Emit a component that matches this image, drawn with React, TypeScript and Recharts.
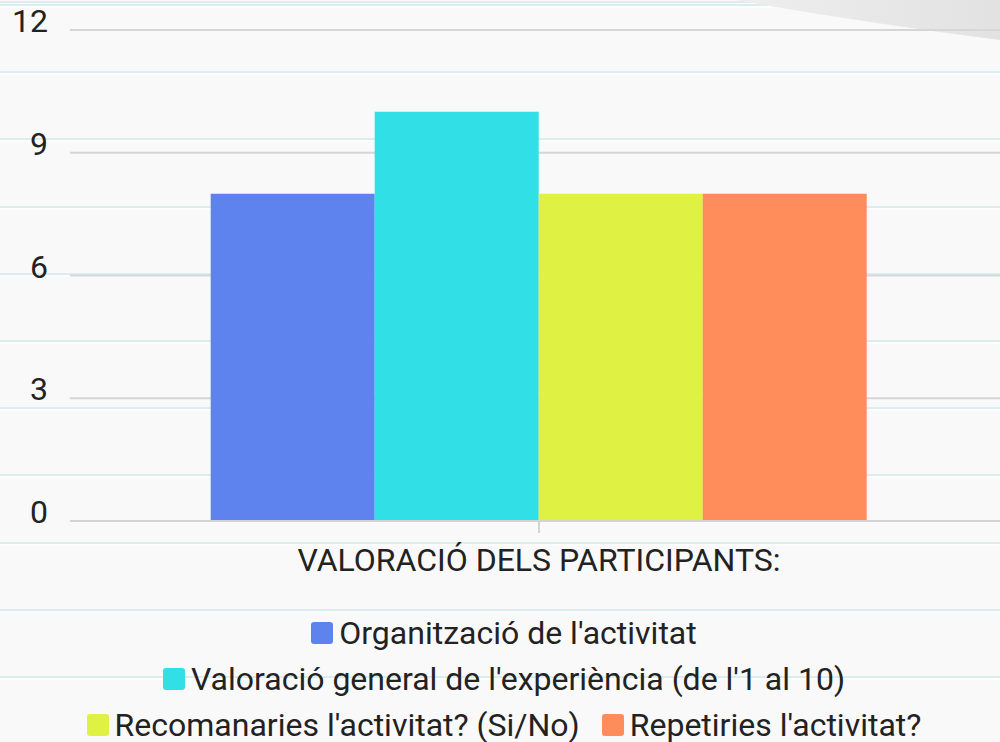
import { BarChart, Bar, XAxis, YAxis, CartesianGrid, Legend } from 'recharts';

// category + series
const categories = ["VALORACIÓ DELS PARTICIPANTS:"];
const seriesNames = [
    "Organització de l'activitat",
    "Valoració general de l'experiència (de l'1 al 10)",
    "Recomanaries l'activitat? (Si/No)",
    "Repetiries l'activitat?",
];
const seriesValues = [8, 10, 8, 8];
const seriesColors = ["#5f83ee", "#31dfe6", "#dff142", "#ff8c5a"];
const yTicks = [0, 3, 6, 9, 12];

const data = categories.map((cat) => {
    const row: any = { cat };
    seriesNames.forEach((name, i) => {
        row["s" + i] = seriesValues[i];
    });
    return row;
});

const FONT = "Roboto, 'Noto Sans', sans-serif";
const FS = 32;

function YTick(props: any) {
    const { x, y, payload } = props;
    return (
        <text x={x} y={y + 2} textAnchor="end" fontSize={FS} fill="#222" fontFamily={FONT}>
            {payload.value}
        </text>
    );
}

function XTick(props: any) {
    const { x, y, payload } = props;
    return (
        <text x={x} y={y + 38} textAnchor="middle" fontSize={FS} fill="#222" fontFamily={FONT}>
            {payload.value}
        </text>
    );
}

function LegendBox() {
    return (
        <div
            style={{
                width: 860,
                height: 140,
                display: 'flex',
                flexWrap: 'wrap',
                justifyContent: 'center',
                alignContent: 'flex-start',
                columnGap: 22,
                fontFamily: FONT,
                fontSize: FS,
                color: '#222',
            }}
        >
            {seriesNames.map((name, i) => (
                <div key={name} style={{ display: 'flex', alignItems: 'center', height: 46, whiteSpace: 'nowrap' }}>
                    <span
                        style={{
                            width: 22,
                            height: 22,
                            borderRadius: 3,
                            background: seriesColors[i],
                            marginRight: 6,
                            display: 'inline-block',
                        }}
                    />
                    <span>{name}</span>
                </div>
            ))}
        </div>
    );
}

export default function App() {
    return (
        <div
            style={{
                position: 'absolute',
                left: 0,
                top: 0,
                width: 1000,
                height: 742,
                overflow: 'hidden',
                backgroundColor: '#f9f9f9',
                backgroundImage:
                    'repeating-linear-gradient(to bottom, #dbeeee 0px, #dbeeee 2px, #fdfdff 2px, #fdfdff 4px, rgba(0,0,0,0) 4px, rgba(0,0,0,0) 67.2px)',
                backgroundPosition: '0 4px',
            }}
        >
            {/* paper curl, top right */}
            <svg width={1000} height={742} style={{ position: 'absolute', left: 0, top: 0 }}>
                <defs>
                    <linearGradient id="curl" x1="0" y1="0" x2="1" y2="0">
                        <stop offset="0" stopColor="#eeeeee" />
                        <stop offset="1" stopColor="#e2e2e2" />
                    </linearGradient>
                </defs>
                <path d="M 735 0 Q 860 22 1000 40 L 1000 0 Z" fill="url(#curl)" />
            </svg>
            <div style={{ position: 'absolute', left: 0, top: 0 }}>
                <BarChart
                    width={1008}
                    height={742}
                    data={data}
                    barGap={0}
                    barCategoryGap="15%"
                    margin={{ top: 30, right: 0, left: 0, bottom: 11 }}
                >
                    <CartesianGrid vertical={false} stroke="#d6d6d6" strokeWidth={2} />
                    <XAxis
                        dataKey="cat"
                        tick={<XTick />}
                        tickSize={12}
                        tickMargin={0}
                        height={70}
                        stroke="#d4d4d4"
                        strokeWidth={2}
                        tickLine={{ stroke: '#d4d4d4', strokeWidth: 2 }}
                    />
                    <YAxis
                        domain={[0, 12]}
                        ticks={yTicks}
                        width={70}
                        axisLine={false}
                        tickLine={false}
                        tickSize={0}
                        tickMargin={22}
                        tick={<YTick />}
                    />
                    <Legend
                        verticalAlign="bottom"
                        content={<LegendBox />}
                        wrapperStyle={{ left: 74, top: 610, width: 860 }}
                    />
                    {seriesNames.map((name, i) => (
                        <Bar
                            key={name}
                            dataKey={"s" + i}
                            name={name}
                            fill={seriesColors[i]}
                            isAnimationActive={false}
                        />
                    ))}
                </BarChart>
            </div>
        </div>
    );
}
